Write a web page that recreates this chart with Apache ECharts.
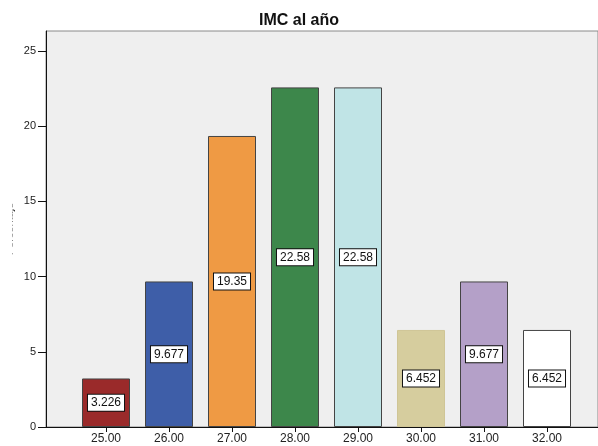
<!DOCTYPE html>
<html>
<head>
<meta charset="utf-8">
<script src="https://cdn.jsdelivr.net/npm/echarts@6/dist/echarts.min.js"></script>
<style>html,body{margin:0;padding:0;background:#fff}#c{width:598px;height:446px}</style>
</head>
<body>
<div id="c"></div>
<script>
const categories = ['25.00','26.00','27.00','28.00','29.00','30.00','31.00','32.00'];
const values = [3.226, 9.677, 19.35, 22.58, 22.58, 6.452, 9.677, 6.452];
const labelTexts = ['3.226','9.677','19.35','22.58','22.58','6.452','9.677','6.452'];
const barColors = ['#9a2a2a','#3e5ea8','#ef9a44','#3d874b','#c0e4e6','#d6cd9e','#b4a0c8','#ffffff'];
const barBorders = ['#444444','#444444','#444444','#444444','#444444','#cfc596','#444444','#444444'];
const yTicks = [0,5,10,15,20,25];
const yMax = 26.33;
const yName = 'Porcentaje';

const font = 'Liberation Sans, Arial, sans-serif';
const chart = echarts.init(document.getElementById('c'));
chart.setOption({
  animation: false,
  title: {
    text: 'IMC al año', left: 'center', top: 8,
    textStyle: {fontSize: 16, fontWeight: 'bold', color: '#111', fontFamily: font}
  },
  grid: [
    {left: 46, top: 31, width: 562, height: 396, show: true, backgroundColor: '#efefef', borderColor: '#8a8a8a', borderWidth: 1},
    {left: 74.5, top: 31, width: 504, height: 396}
  ],
  xAxis: [
    {gridIndex: 0, type: 'value', min: 0, max: 1, axisLine: {show: true, lineStyle: {color: '#111', width: 1}}, axisTick: {show: false}, axisLabel: {show: false}, splitLine: {show: false}},
    {gridIndex: 1, type: 'category', data: categories,
     axisLine: {show: false}, axisTick: {show: true, alignWithLabel: true, length: 5, lineStyle: {color: '#111'}},
     axisLabel: {margin: 6, fontSize: 12, color: '#222', fontFamily: font}}
  ],
  yAxis: [
    {gridIndex: 0, type: 'value', min: 0, max: yMax,
     axisLine: {show: true, lineStyle: {color: '#111', width: 1}},
     axisTick: {show: true, length: 8, customValues: yTicks, lineStyle: {color: '#111'}},
     axisLabel: {margin: 10, fontSize: 11, color: '#222', fontFamily: font, customValues: yTicks},
     splitLine: {show: false}},
    {gridIndex: 1, type: 'value', min: 0, max: yMax, show: false, splitLine: {show: false}}
  ],
  graphic: [
    {type: 'text', x: 15, y: 229, rotation: Math.PI / 2, z: 1,
     style: {text: yName, fontSize: 11, fontFamily: font, fill: '#111', align: 'center', verticalAlign: 'bottom'}},
    {type: 'rect', shape: {x: 0, y: 150, width: 12.5, height: 160}, style: {fill: '#fff'}, z: 10}
  ],
  series: [{
    type: 'bar', xAxisIndex: 1, yAxisIndex: 1, barWidth: 48,
    data: values.map((v, i) => ({
      value: v,
      itemStyle: {color: barColors[i], borderColor: barBorders[i], borderWidth: 1}
    })),
    label: {
      show: true, position: 'inside',
      formatter: p => labelTexts[p.dataIndex],
      backgroundColor: '#fff', borderColor: '#111', borderWidth: 1,
      padding: [2, 3], fontSize: 12, lineHeight: 12, color: '#111', fontFamily: font
    }
  }]
});
</script>
</body>
</html>
